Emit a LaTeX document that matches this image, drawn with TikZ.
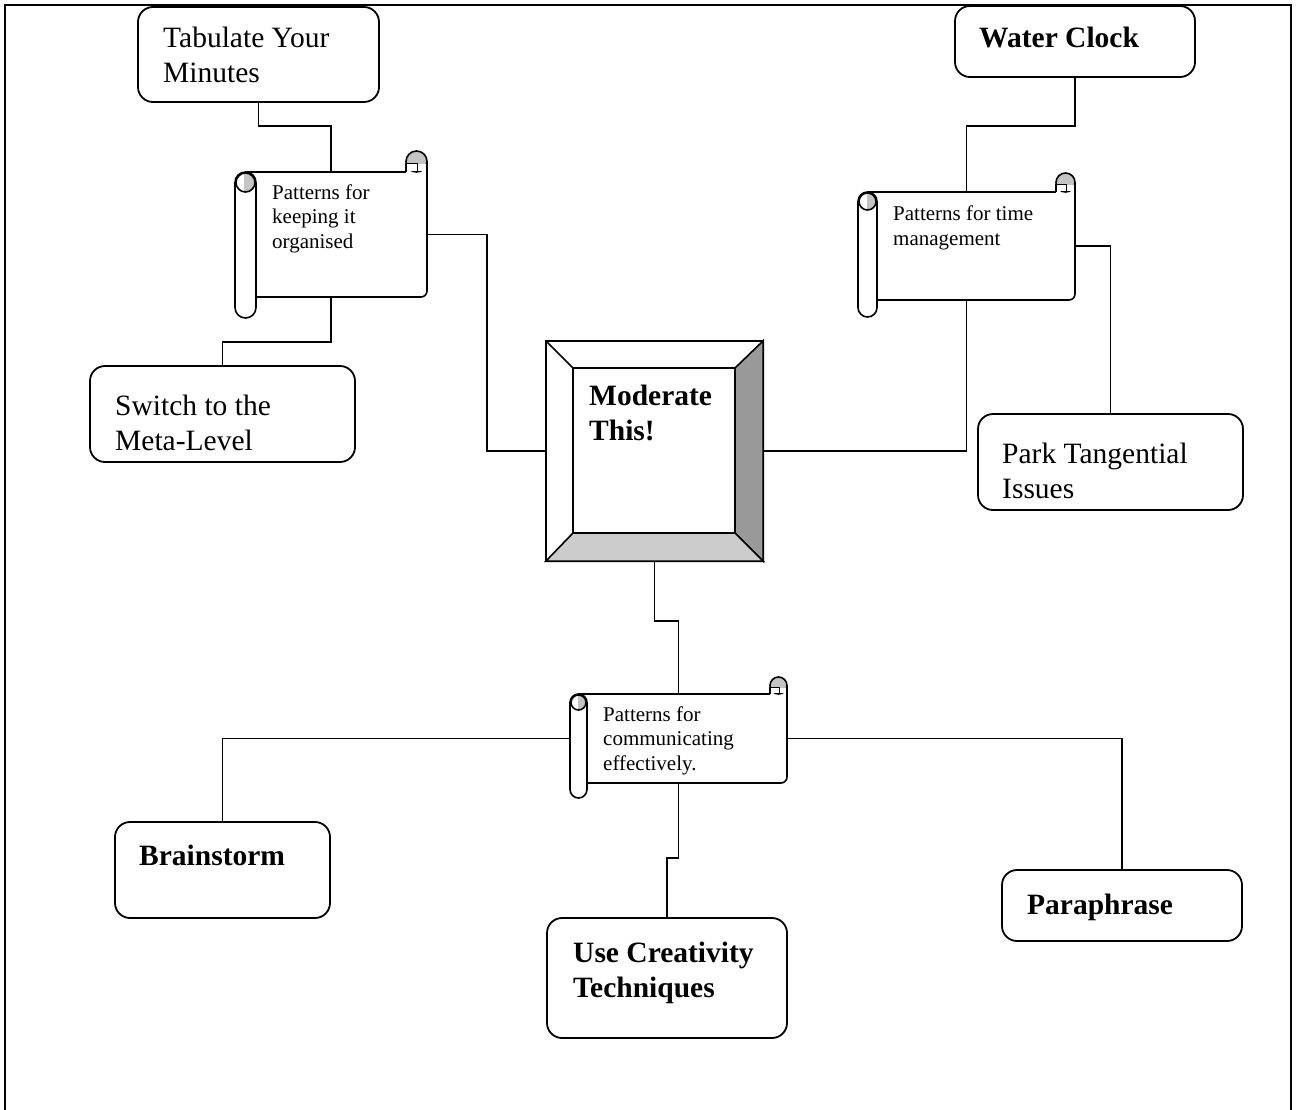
\documentclass[tikz,border=0pt]{standalone}
\usepackage{fontspec}
\setmainfont{Liberation Serif}
\usetikzlibrary{fit}
\definecolor{curl}{HTML}{C4C4C4}
\definecolor{bevR}{HTML}{999999}
\definecolor{bevB}{HTML}{CCCCCC}
\newcommand\bigtxt{\fontsize{29.5}{34.8}\selectfont}
\newcommand\smalltxt{\fontsize{21}{24.5}\selectfont}
\tikzset{
  boxst/.style={draw, line width=1.8pt, rounded corners=15pt, fill=white, inner sep=0pt},
  area/.style={inner sep=0pt},
  conn/.style={line width=1.7pt},
  sline/.style={line width=1.6pt},
  txt/.style={inner sep=0pt, anchor=base west, align=left, font=\bigtxt},
  btxt/.style={txt, font=\bigtxt\bfseries},
  stxt/.style={txt, font=\smalltxt},
}
% L T R B RB w
\newcommand\drawscroll[6]{%
  \fill[white] ({#1+#6/2},#2) rectangle (#3,#4);
  \draw[sline,rounded corners=6pt] ({#1+#6},#4) -- (#3,#4) -- (#3,{#2-#6/2});
  \draw[sline] ({#1+#6/2},#2) -- ({#3-#6},#2);
  \filldraw[sline,fill=curl] ({#3-#6/2},{#2-#6/2}) circle ({#6/2});
  \fill[white] ({#3-#6+0.8},{#2-#6/2+2}) rectangle ({#3-0.8},{#2-0.8});
  \draw[sline] ({#3-#6},#2) -- ({#3-#6},{#2-#6/2+2}) -- ({#3-#6/2+1},{#2-#6/2+2}) -- ({#3-#6/2+1},#2);
  \draw[sline] (#3,{#2-#6/2}) -- (#3,#2);
  \draw[sline,fill=white,rounded corners={#6/2}] (#1,#2) rectangle ({#1+#6},#5);
  \begin{scope}
    \clip ({#1+#6/2},{#2+#6/2}) circle ({#6/2-1});
    \fill[curl] ({#1+#6*0.45},#2) rectangle ({#1+#6},{#2+#6});
  \end{scope}
  \draw[sline] ({#1+#6/2},{#2+#6/2}) circle ({#6/2-1});
}
\begin{document}
\begin{tikzpicture}[x=1pt,y=-1pt]
\useasboundingbox (0,0) rectangle (1296,1109);
% frame
\draw[line width=2pt] (5,1112) -- (5,5) -- (1291,5) -- (1291,1112);

% areas for scrolls and centre
\node[area, fit={(235,172) (427,297)}] (s1) {};
\node[area, fit={(858,192) (1075,300)}] (s2) {};
\node[area, fit={(570,694) (787,783)}] (s3) {};
\node[area, fit={(546,341) (763,561)}] (mod) {};

% boxes
\node[boxst, fit={(138,7) (379,102)}] (tab) {};
\node[boxst, fit={(955,6) (1195,77)}] (wc) {};
\node[boxst, fit={(90,366) (355,462)}] (sw) {};
\node[boxst, fit={(978,414) (1243,510)}] (park) {};
\node[boxst, fit={(115,822) (330,918)}] (bs) {};
\node[boxst, fit={(547,918) (787,1038)}] (uc) {};
\node[boxst, fit={(1002,870) (1242,941)}] (para) {};

% connectors
\draw[conn] (tab.south) -- ++(0,23) -| (s1.north);
\draw[conn] (s1.south) -- ++(0,45) -| (sw.north);
\draw[conn] (s1.east) -- ++(60,0) |- (mod.west);
\draw[conn] (wc.south) -- ++(0,48) -| (s2.north);
\draw[conn] (mod.east) -| (s2.south);
\draw[conn] (s2.east) -| (park.north);
\draw[conn] (mod.south) -- ++(0,60) -| (s3.north);
\draw[conn] (s3.west) -| (bs.north);
\draw[conn] (s3.south) -- ++(0,75) -| (uc.north);
\draw[conn] (s3.east) -| (para.north);

% scroll shapes
\drawscroll{235}{172}{427}{297}{318}{21}
\drawscroll{858}{192}{1075}{300}{317}{19}
\drawscroll{570}{694}{787}{783}{798}{17}

% centre bevel box
\filldraw[line width=1.6pt, fill=white] (mod.north west) rectangle (mod.south east);
\filldraw[line width=1.6pt, fill=bevR] (mod.north east) -- (mod.south east) -- (735,533) -- (735,368) -- cycle;
\filldraw[line width=1.6pt, fill=bevB] (mod.south west) -- (mod.south east) -- (735,533) -- (573,533) -- cycle;
\draw[line width=1.6pt] (mod.north west) -- (573,368);
\draw[line width=1.6pt] (573,368) rectangle (735,533);

% texts (base anchor = baseline of the last line)
\node[txt] (tabT) at (163,82) {Tabulate Your\\Minutes};
\node[btxt] (wcT) at (979,47) {Water Clock};
\node[txt] (swT) at (115,450) {Switch to the\\Meta-Level};
\node[txt] (parkT) at (1002,498) {Park Tangential\\Issues};
\node[btxt] (modT) at (589,440) {Moderate\\This!};
\node[btxt] (bsT) at (139,865) {Brainstorm};
\node[btxt] (ucT) at (573,997) {Use Creativity\\Techniques};
\node[btxt] (paraT) at (1027,914) {Paraphrase};
\node[stxt] (s1T) at (272,248) {Patterns for\\keeping it\\organised};
\node[stxt] (s2T) at (893,245) {Patterns for time\\management};
\node[stxt] (s3T) at (603,770) {Patterns for\\communicating\\effectively.};
\end{tikzpicture}
\end{document}
